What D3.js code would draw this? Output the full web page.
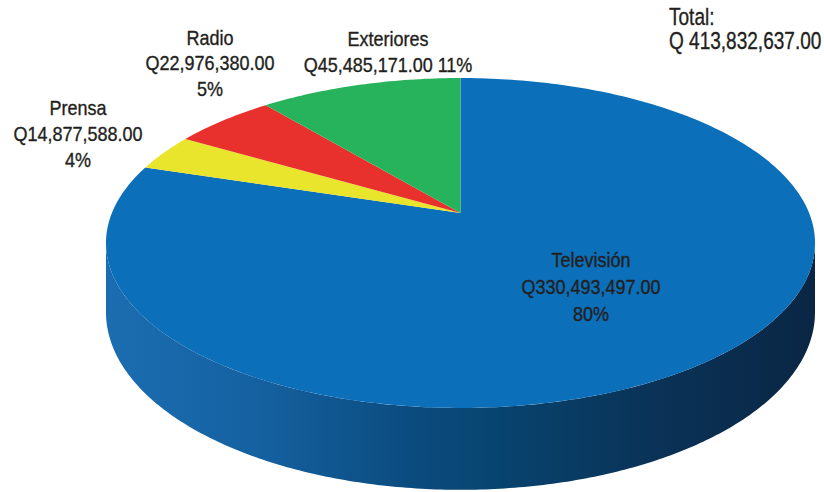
<!DOCTYPE html>
<html>
<head>
<meta charset="utf-8">
<script src="https://cdn.jsdelivr.net/npm/d3@7"></script>
<style>
  html, body { margin: 0; padding: 0; background: #ffffff; }
  svg { display: block; }
  text { font-family: "Liberation Sans", Arial, sans-serif; fill: #231f20; stroke: #231f20; stroke-width: 0.35; }
</style>
</head>
<body>
<script>
// Inversión publicitaria por medio (quetzales)
const categories = ["Televisión", "Prensa", "Radio", "Exteriores"];
const amounts    = [330493497.00, 14877588.00, 22976380.00, 45485171.00];
const percents   = ["80%", "4%", "5%", "11%"];
const sliceColors = ["#0b6fba", "#e9e52c", "#e8312d", "#27b35b"];
const totalLabel = ["Total:", "Q 413,832,637.00"];

const W = 824, H = 492;
const svg = d3.select("body").append("svg").attr("width", W).attr("height", H);

// Perspective view of the disc: u to the right, v toward the viewer
const cx = 460.5, cy = 213, sx = 348.6, sy = 159.5, persp = 0.1818, depth = 67;
const project = (a, drop = 0) => {
  const u = Math.sin(a), v = -Math.cos(a);
  const w = 1 - persp * v;
  return [cx + sx * u / w, cy + (sy * v + drop) / w];
};

const pie = d3.pie().sort(null).value(d => d)(amounts);
const arcSteps = d3.scaleLinear().domain([0, 2 * Math.PI]).range([0, 360]);

const fmt = d3.format(",.2f");

// Side wall (front half of the cylinder)
const aL = Math.acos(-persp), aR = 2 * Math.PI - Math.acos(-persp);
const sidePts = [];
const nSide = 240;
for (let i = 0; i <= nSide; i++) sidePts.push(project(aL + (aR - aL) * i / nSide));
for (let i = nSide; i >= 0; i--) sidePts.push(project(aL + (aR - aL) * i / nSide, depth));

const defs = svg.append("defs");
const grad = defs.append("linearGradient").attr("id", "sideShade")
  .attr("gradientUnits", "userSpaceOnUse")
  .attr("x1", cx - 355).attr("x2", cx + 355).attr("y1", 0).attr("y2", 0);
[[0, "#1b6db1"], [0.2, "#1562a2"], [0.45, "#0a4a7c"], [0.55, "#074470"],
 [0.75, "#0a3459"], [1, "#0a2644"]].forEach(([o, c]) =>
  grad.append("stop").attr("offset", o).attr("stop-color", c));

svg.append("path")
  .attr("d", d3.line()(sidePts) + "Z")
  .attr("fill", "url(#sideShade)");

// Top face slices
svg.append("g").selectAll("path")
  .data(pie)
  .join("path")
  .attr("d", d => {
    const n = Math.max(4, Math.ceil(arcSteps(d.endAngle - d.startAngle)));
    const pts = [[cx, cy]];
    for (let i = 0; i <= n; i++) pts.push(project(d.startAngle + (d.endAngle - d.startAngle) * i / n));
    return d3.line()(pts) + "Z";
  })
  .attr("fill", (d, i) => sliceColors[i]);

// Condensed text block: lines stacked from a baseline, squeezed horizontally
function textBlock(x, y, lines, lh, size, squeeze, anchor) {
  const g = svg.append("g").attr("transform", `translate(${x},${y}) scale(${squeeze},1)`);
  const t = g.append("text").attr("font-size", size).attr("text-anchor", anchor);
  lines.forEach((s, k) => t.append("tspan").attr("x", 0).attr("y", k * lh).text(s));
}

// Data labels
const labelLayout = [
  { x: 591, y: 267, lh: 27,   split: true },
  { x: 78,  y: 115, lh: 26,   split: true },
  { x: 210, y: 45,  lh: 25.5, split: true },
  { x: 388, y: 46,  lh: 26,   split: false }
];
labelLayout.forEach((L, i) => {
  const money = "Q" + fmt(amounts[i]);
  const lines = L.split ? [categories[i], money, percents[i]]
                        : [categories[i], money + " " + percents[i]];
  textBlock(L.x, L.y, lines, L.lh, 20, 0.9, "middle");
});

// Grand total
textBlock(669, 25, totalLabel, 24.5, 23.5, 0.81, "start");
</script>
</body>
</html>
